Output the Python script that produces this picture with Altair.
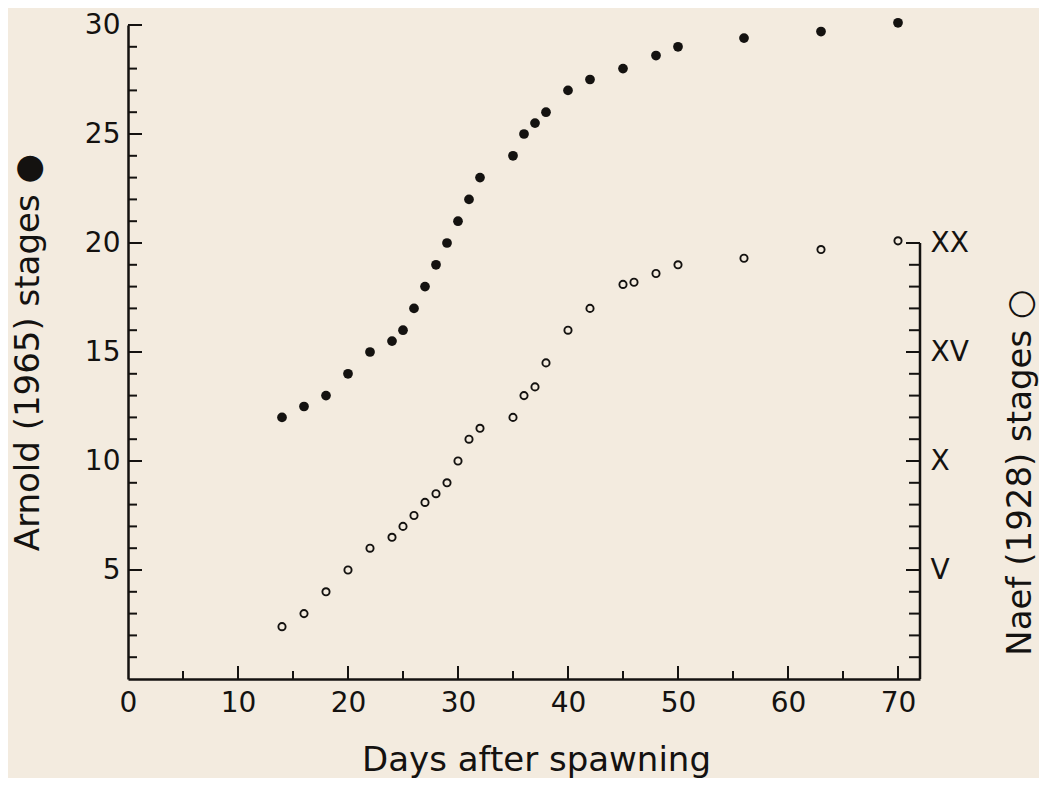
import altair as alt
import pandas as pd

# ---- data ----
arnold_days = [14, 16, 18, 20, 22, 24, 25, 26, 27, 28, 29, 30, 31, 32, 35, 36, 37, 38,
               40, 42, 45, 48, 50, 56, 63, 70]
arnold_stage = [12, 12.5, 13, 14, 15, 15.5, 16, 17, 18, 19, 20, 21, 22, 23, 24, 25, 25.5, 26,
                27, 27.5, 28, 28.6, 29, 29.4, 29.7, 30.1]
naef_days = [14, 16, 18, 20, 22, 24, 25, 26, 27, 28, 29, 30, 31, 32, 35, 36, 37, 38,
             40, 42, 45, 46, 48, 50, 56, 63, 70]
naef_stage = [2.4, 3, 4, 5, 6, 6.5, 7, 7.5, 8.1, 8.5, 9, 10, 11, 11.5, 12, 13, 13.4, 14.5,
              16, 17, 18.1, 18.2, 18.6, 19, 19.3, 19.7, 20.1]

x_labels = [0, 10, 20, 30, 40, 50, 60, 70]
x_major = [10, 20, 30, 40, 50, 60, 70]
x_minor = [5, 15, 25, 35, 45, 55, 65]
left_major = [5, 10, 15, 20, 25, 30]
left_minor = [v for v in range(1, 30) if v % 5]
right_major = [5, 10, 15, 20]
right_minor = [v for v in range(1, 20) if v % 5]
right_labels = ["V", "X", "XV", "XX"]

INK = "#141210"
BG = "#f3ebdf"
FONT = "DejaVu Sans"
LAB = 28
TIT = 34

xs = alt.Scale(domain=[0, 72], nice=False, zero=False)
ys = alt.Scale(domain=[0, 30], nice=False, zero=False)

arnold = pd.DataFrame({"day": arnold_days, "stage": arnold_stage})
naef = pd.DataFrame({"day": naef_days, "stage": naef_stage})

x_axis = alt.Axis(values=x_labels, ticks=False, tickSize=0, grid=False, domainColor=INK,
                  domainWidth=2.5, labelFont=FONT, labelFontSize=LAB, labelColor=INK,
                  labelPadding=10, labelFlush=False, title="Days after spawning",
                  titleFont=FONT, titleFontSize=TIT, titleFontWeight="normal",
                  titleColor=INK, titlePadding=26, titleX=408, titleAlign="center")
left_axis = alt.Axis(values=left_major, ticks=False, tickSize=0, grid=False, domainColor=INK,
                     domainWidth=2.5, labelFont=FONT, labelFontSize=LAB, labelColor=INK,
                     labelPadding=8, labelFlush=False, title="Arnold (1965) stages ●",
                     titleFont=FONT, titleFontSize=TIT, titleFontWeight="normal",
                     titleColor=INK, titlePadding=39)
roman_expr = " : ".join(f"datum.value == {v} ? '{l}'" for v, l in zip(right_major, right_labels)) + " : ''"
right_axis = alt.Axis(orient="right", values=right_major, labelExpr=roman_expr, ticks=False,
                      tickSize=0, domain=False, grid=False, labelFont=FONT, labelFontSize=LAB,
                      labelColor=INK, labelPadding=10, labelFlush=False,
                      title="Naef (1928) stages ○", titleFont=FONT, titleFontSize=TIT,
                      titleFontWeight="normal", titleColor=INK, titleAngle=270,
                      titleBaseline="top", titleY=447, titlePadding=35)

filled_pts = alt.Chart(arnold).mark_point(shape="circle", filled=True, size=95, color=INK,
                                          opacity=1).encode(
    x=alt.X("day:Q", scale=xs, axis=x_axis),
    y=alt.Y("stage:Q", scale=ys, axis=left_axis),
)

def hrules(values, xval, offset):
    df = pd.DataFrame({"v": values})
    return alt.Chart(df).mark_rule(color=INK, strokeWidth=2, x2Offset=offset).encode(
        y=alt.Y("v:Q", scale=ys),
        x=alt.datum(xval), x2=alt.datum(xval))

def vrules(values, offset):
    df = pd.DataFrame({"v": values})
    return alt.Chart(df).mark_rule(color=INK, strokeWidth=2, y2Offset=offset).encode(
        x=alt.X("v:Q", scale=xs),
        y=alt.datum(0), y2=alt.datum(0))

left_group = alt.layer(
    filled_pts,
    hrules(left_minor, 0, 9),
    hrules(left_major, 0, 14),
    vrules(x_minor, -8),
    vrules(x_major, -13),
)

open_pts = alt.Chart(naef).mark_point(shape="circle", filled=False, size=52, strokeWidth=1.9,
                                      color=INK, opacity=1).encode(
    x=alt.X("day:Q", scale=xs),
    y=alt.Y("stage:Q", scale=ys, axis=right_axis),
)

right_line = alt.Chart(pd.DataFrame({"a": [0], "b": [right_major[-1]]})).mark_rule(
    color=INK, strokeWidth=2.5).encode(
    x=alt.datum(72),
    y=alt.Y("a:Q", scale=ys),
    y2="b:Q",
)

right_group = alt.layer(
    open_pts,
    right_line,
    hrules(right_minor, 72, -11),
    hrules(right_major, 72, -14),
)

chart = alt.layer(left_group, right_group).resolve_scale(y="independent").properties(
    width=792, height=654,
    padding={"left": 120, "top": 17, "right": 119, "bottom": 99},
    autosize=alt.AutoSizeParams(type="none"),
    background=BG,
).configure_view(stroke=None)

chart.save("out.html", embed_options={"renderer": "svg", "actions": False})
